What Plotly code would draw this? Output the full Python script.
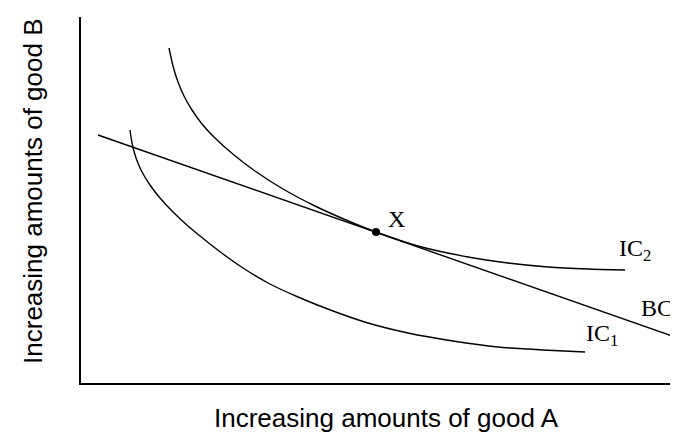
import plotly.graph_objects as go

# Data in chart units (origin at the axes corner)
ic2_x = [88, 92, 97, 103, 111, 121, 134, 153, 174, 202, 234, 265, 295, 337, 387, 427, 467, 507, 544]
ic2_y = [335, 317, 301, 287, 273, 259, 245, 228, 212, 194, 177, 163, 151, 137, 126, 120, 116, 114, 113]

ic1_x = [49, 51, 55, 61, 69, 79, 92, 107, 124, 142, 162, 187, 217, 252, 287, 327, 372, 417, 462, 504]
ic1_y = [253, 240, 225, 211, 198, 185, 171, 157, 143, 129, 115, 100, 86, 72, 60, 50, 42, 36, 33, 31]

bc_x = [17, 594]
bc_y = [248, 46]

pt_x = [295]
pt_y = [151]

labels = ["X", "IC<sub>2</sub>", "BC", "IC<sub>1</sub>"]
label_x = [315, 554, 576, 521]
label_y = [164, 133, 75, 48]

axis_titles = ["Increasing amounts of good A", "Increasing amounts of good B"]

fig = go.Figure()
line_style = dict(color="black", width=1.4)
fig.add_trace(go.Scatter(x=ic2_x, y=ic2_y, mode="lines", line=dict(shape="spline", smoothing=0.6, **line_style), hoverinfo="skip"))
fig.add_trace(go.Scatter(x=ic1_x, y=ic1_y, mode="lines", line=dict(shape="spline", smoothing=0.6, **line_style), hoverinfo="skip"))
fig.add_trace(go.Scatter(x=bc_x, y=bc_y, mode="lines", line=line_style, hoverinfo="skip"))
fig.add_trace(go.Scatter(x=pt_x, y=pt_y, mode="markers", marker=dict(color="black", size=8), hoverinfo="skip"))

for t, lx, ly in zip(labels, label_x, label_y):
    fig.add_annotation(x=lx, y=ly, text=t, showarrow=False,
                       font=dict(family="Liberation Serif", size=24, color="black"))

title_font = dict(family="Liberation Sans", size=26, color="black")
fig.add_annotation(xref="paper", yref="paper", x=0.515, y=0, yanchor="middle",
                   yshift=-35, text=axis_titles[0], showarrow=False, font=title_font)
fig.add_annotation(xref="paper", yref="paper", x=0, y=0.522, xanchor="center",
                   xshift=-48, textangle=-90, text=axis_titles[1], showarrow=False,
                   font=title_font)

fig.update_layout(
    width=678, height=435,
    margin=dict(l=73, r=11, t=9, b=60),
    plot_bgcolor="white", paper_bgcolor="white",
    showlegend=False,
    xaxis=dict(range=[0, 594], showgrid=False, zeroline=False, showticklabels=False,
               ticks="", showline=True, linecolor="black", linewidth=1.5, automargin=False),
    yaxis=dict(range=[0, 366], showgrid=False, zeroline=False, showticklabels=False,
               ticks="", showline=True, linecolor="black", linewidth=1.5, automargin=False),
)

fig.write_html("out.html")
